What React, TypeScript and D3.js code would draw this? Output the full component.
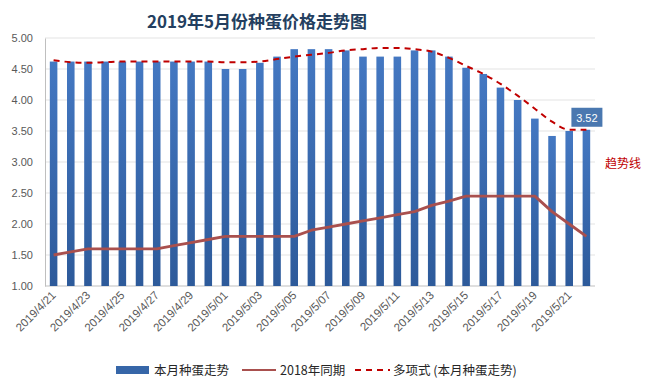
import React, { useRef, useEffect } from 'react';
import * as d3 from 'd3';

// 2019/4/21 .. 2019/5/22
const dates = [
  '2019/4/21', '2019/4/22', '2019/4/23', '2019/4/24', '2019/4/25', '2019/4/26', '2019/4/27', '2019/4/28',
  '2019/4/29', '2019/4/30', '2019/5/01', '2019/5/02', '2019/5/03', '2019/5/04', '2019/5/05', '2019/5/06',
  '2019/5/07', '2019/5/08', '2019/5/09', '2019/5/10', '2019/5/11', '2019/5/12', '2019/5/13', '2019/5/14',
  '2019/5/15', '2019/5/16', '2019/5/17', '2019/5/18', '2019/5/19', '2019/5/20', '2019/5/21', '2019/5/22',
];

const priceThisMonth = [
  4.62, 4.62, 4.62, 4.62, 4.62, 4.62, 4.62, 4.62,
  4.62, 4.62, 4.5, 4.5, 4.6, 4.7, 4.82, 4.82,
  4.82, 4.8, 4.7, 4.7, 4.7, 4.8, 4.8, 4.7,
  4.52, 4.42, 4.2, 4.0, 3.7, 3.42, 3.5, 3.52,
];

const price2018 = [
  1.5, 1.55, 1.6, 1.6, 1.6, 1.6, 1.6, 1.65,
  1.7, 1.75, 1.8, 1.8, 1.8, 1.8, 1.8, 1.9,
  1.95, 2.0, 2.05, 2.1, 2.15, 2.2, 2.3, 2.37,
  2.45, 2.45, 2.45, 2.45, 2.45, 2.2, 2.0, 1.8,
];

const trendLine = [
  4.64, 4.61, 4.6, 4.61, 4.62, 4.62, 4.62, 4.62,
  4.62, 4.62, 4.61, 4.61, 4.62, 4.66, 4.7, 4.73,
  4.76, 4.8, 4.82, 4.84, 4.84, 4.82, 4.78, 4.68,
  4.55, 4.42, 4.26, 4.07, 3.86, 3.65, 3.52, 3.52,
];

const yTicks = [1, 1.5, 2, 2.5, 3, 3.5, 4, 4.5, 5];

const legendItems = ['本月种蛋走势', '2018年同期', '多项式 (本月种蛋走势)'];

const App: React.FC = () => {
  const svgRef = useRef<SVGSVGElement | null>(null);

  useEffect(() => {
    const W = 645;
    const H = 390;
    const m = { left: 45, right: 50, top: 38, bottom: 104 };
    const svg = d3.select(svgRef.current!).attr('width', W).attr('height', H);
    svg.selectAll('*').remove();

    const font = '"Liberation Sans", "Noto Sans CJK SC", sans-serif';
    const cjk = '"Noto Sans CJK SC", sans-serif';

    const x = d3.scaleBand<string>()
      .domain(dates)
      .range([m.left, W - m.right])
      .paddingInner(0.56)
      .paddingOuter(0.28);

    const y = d3.scaleLinear().domain([1, 5]).range([H - m.bottom, m.top]);

    const defs = svg.append('defs');
    const grad = defs.append('linearGradient')
      .attr('id', 'barGrad').attr('x1', 0).attr('y1', 0).attr('x2', 0).attr('y2', 1);
    grad.append('stop').attr('offset', '0%').attr('stop-color', '#4478c2');
    grad.append('stop').attr('offset', '100%').attr('stop-color', '#2d5a9a');

    // title
    svg.append('text')
      .attr('x', 257).attr('y', 28)
      .attr('text-anchor', 'middle')
      .attr('font-family', cjk)
      .attr('font-size', 17).attr('font-weight', 'bold')
      .attr('fill', '#243f60')
      .text('2019年5月份种蛋价格走势图');

    // grid
    svg.append('g')
      .selectAll('line')
      .data(yTicks)
      .join('line')
      .attr('x1', m.left).attr('x2', W - m.right)
      .attr('y1', (d) => y(d)).attr('y2', (d) => y(d))
      .attr('stroke', (d) => (d === 1 ? '#bfbfbf' : '#e3e3e3'))
      .attr('stroke-width', 1);

    // y axis
    const yAxis = svg.append('g')
      .attr('transform', `translate(${m.left},0)`)
      .call(d3.axisLeft(y).tickValues(yTicks).tickFormat(d3.format('.2f')).tickSize(0).tickPadding(12));
    yAxis.select('.domain').attr('stroke', '#bfbfbf');
    yAxis.selectAll('text')
      .attr('font-family', font).attr('font-size', 11).attr('fill', '#595959');

    // bars
    svg.append('g')
      .selectAll('rect')
      .data(priceThisMonth)
      .join('rect')
      .attr('x', (_, i) => x(dates[i])!)
      .attr('y', (d) => y(d))
      .attr('width', x.bandwidth())
      .attr('height', (d) => y(1) - y(d))
      .attr('fill', 'url(#barGrad)');

    const cx = (i: number) => x(dates[i])! + x.bandwidth() / 2;

    // 2018 line
    const line2018 = d3.line<number>()
      .x((_, i) => cx(i))
      .y((d) => y(d));
    svg.append('path')
      .datum(price2018)
      .attr('fill', 'none')
      .attr('stroke', '#a9504e')
      .attr('stroke-width', 2.8)
      .attr('stroke-linejoin', 'round')
      .attr('d', line2018);

    // trend line
    const lineTrend = d3.line<number>()
      .x((_, i) => cx(i))
      .y((d) => y(d))
      .curve(d3.curveMonotoneX);
    svg.append('path')
      .datum(trendLine)
      .attr('fill', 'none')
      .attr('stroke', '#c00000')
      .attr('stroke-width', 2)
      .attr('stroke-dasharray', '6,5')
      .attr('d', lineTrend);

    // x axis labels (every other date)
    const xAxis = svg.append('g')
      .attr('transform', `translate(0,${y(1)})`)
      .call(d3.axisBottom(x).tickValues(dates.filter((_, i) => i % 2 === 0)).tickSize(0).tickPadding(0));
    xAxis.select('.domain').remove();
    xAxis.selectAll('text')
      .attr('font-family', font).attr('font-size', 11.5).attr('fill', '#595959')
      .attr('text-anchor', 'end')
      .attr('dy', 0)
      .attr('transform', 'translate(3,10) rotate(-45)');

    // data label on last bar
    const last = priceThisMonth.length - 1;
    const lx = cx(last);
    const ly = y(priceThisMonth[last]) - 12;
    svg.append('rect')
      .attr('x', lx - 15).attr('y', ly - 10)
      .attr('width', 31).attr('height', 19)
      .attr('fill', '#4a78b0');
    svg.append('text')
      .attr('x', lx + 0.5).attr('y', ly + 4)
      .attr('text-anchor', 'middle')
      .attr('font-family', font).attr('font-size', 11).attr('fill', '#ffffff')
      .text(d3.format('.2f')(priceThisMonth[last]));

    svg.append('text')
      .attr('x', 605).attr('y', 168)
      .attr('font-family', cjk).attr('font-size', 12).attr('fill', '#c00000')
      .text('趋势线');

    // legend
    const lg = svg.append('g').attr('font-family', cjk).attr('font-size', 12.5).attr('fill', '#262626');
    const ly0 = 370;
    lg.append('rect').attr('x', 116).attr('y', ly0 - 4).attr('width', 33).attr('height', 8).attr('fill', '#3666a8');
    lg.append('text').attr('x', 154).attr('y', ly0 + 4.5).text(legendItems[0]);
    lg.append('line').attr('x1', 242).attr('x2', 276).attr('y1', ly0).attr('y2', ly0)
      .attr('stroke', '#a9504e').attr('stroke-width', 2);
    lg.append('text').attr('x', 280).attr('y', ly0 + 4.5).text(legendItems[1]);
    lg.append('line').attr('x1', 355).attr('x2', 390).attr('y1', ly0).attr('y2', ly0)
      .attr('stroke', '#c00000').attr('stroke-width', 2).attr('stroke-dasharray', '6,5');
    lg.append('text').attr('x', 393).attr('y', ly0 + 4.5).text(legendItems[2]);
  }, []);

  return <svg ref={svgRef} style={{ position: 'absolute', left: 0, top: 0 }}></svg>;
};

export default App;
